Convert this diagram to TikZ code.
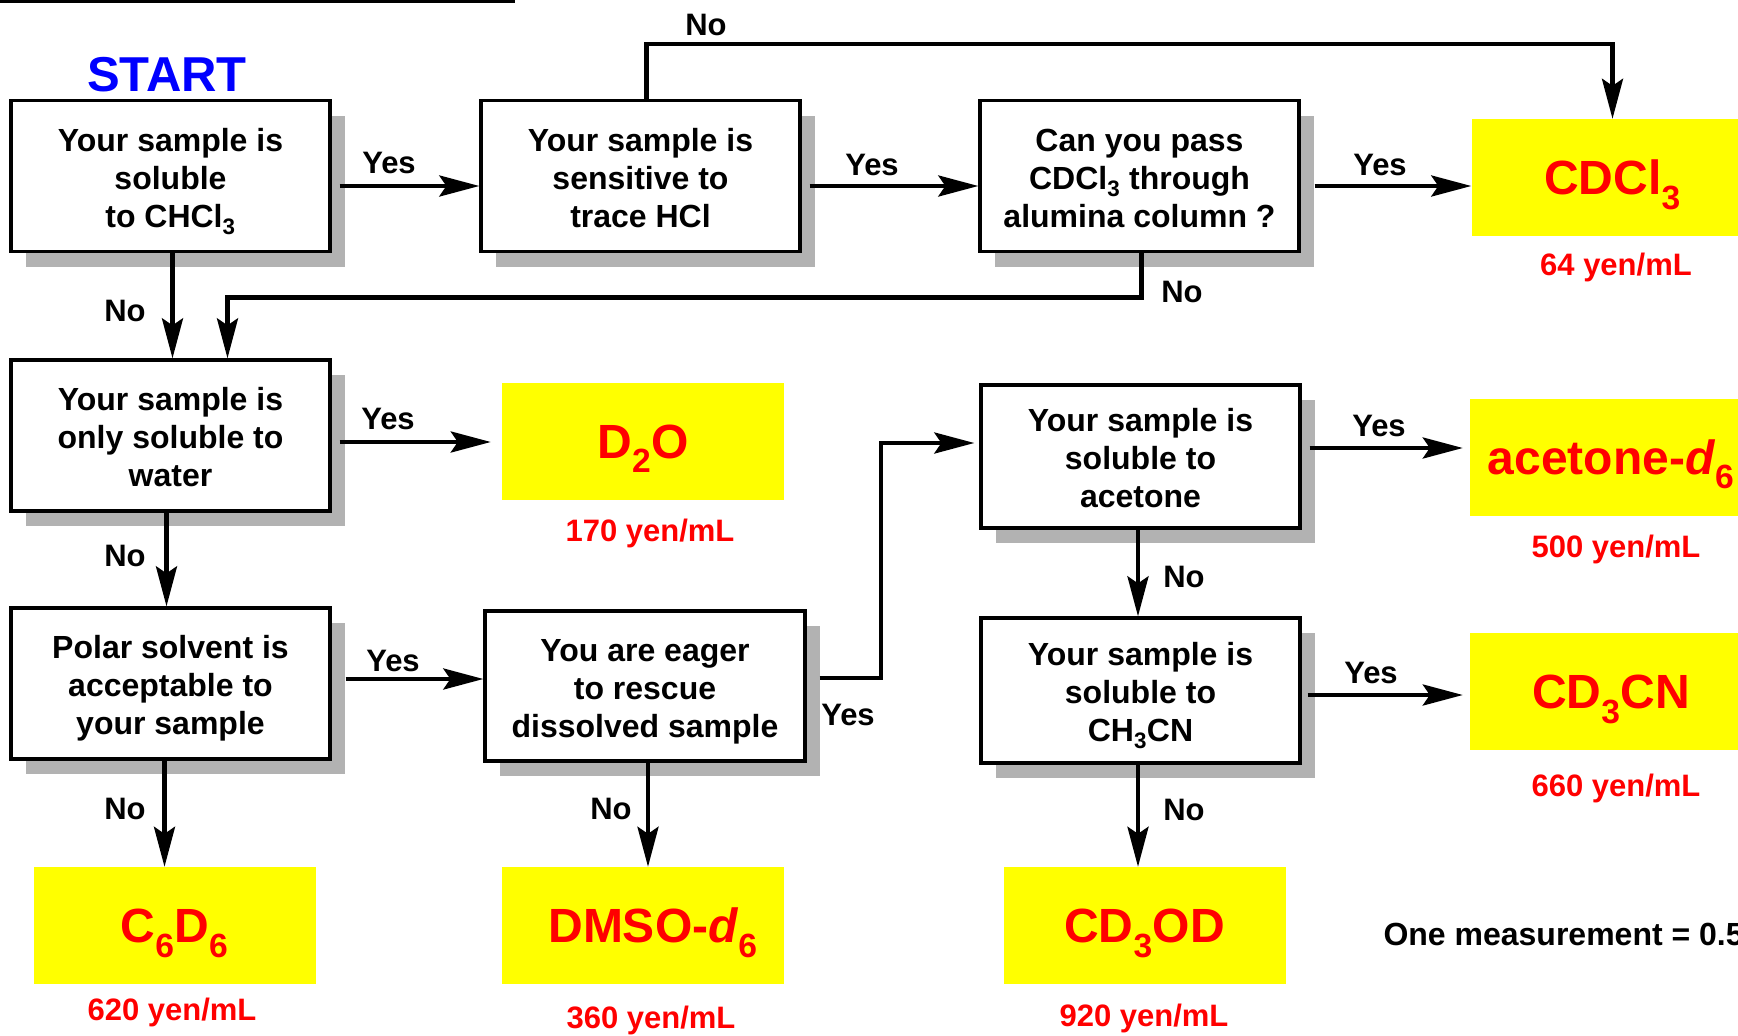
\documentclass[tikz,border=0pt]{standalone}
\usepackage{fontspec}
\setmainfont{Liberation Sans}
\usetikzlibrary{arrows.meta,shadows}
\definecolor{ylw}{RGB}{255,255,0}
\definecolor{rd}{RGB}{255,0,0}
\definecolor{bl}{RGB}{0,0,255}
\newcommand\boxfont{\fontsize{32}{38}\selectfont\bfseries}
\newcommand\solfont{\fontsize{48}{54}\selectfont\bfseries}
\newcommand\startfont{\fontsize{49}{54}\selectfont\bfseries}
\newcommand\labfont{\fontsize{31}{36}\selectfont\bfseries}
\newcommand\notefont{\fontsize{32}{36}\selectfont\bfseries}
\newcommand\sbs[1]{\textsubscript{#1}}
\newcommand\qtext[1]{\begin{tabular}{@{}c@{}}\rule{0pt}{38pt}#1\end{tabular}}
\begin{document}
\begin{tikzpicture}[x=1pt,y=-1pt,
  qbox/.style={draw, line width=3.3pt, fill=white, minimum width=319pt,
    minimum height=151pt, inner sep=0pt, font=\boxfont,
    drop shadow={shadow xshift=15pt, shadow yshift=-15pt, fill=black!30, opacity=1}},
  ybox/.style={fill=ylw, minimum width=282pt, minimum height=117pt,
    inner sep=0pt, text height=34pt, text depth=0pt, text=rd, font=\solfont},
  price/.style={text=rd, font=\labfont},
  lab/.style={font=\labfont},
  arr/.style={line width=4.3pt, -{Stealth[length=40pt,width=21pt,inset=7pt]}}]
\useasboundingbox (0,0) rectangle (1738,1036);
\fill (0,0) rectangle (515,3);

% decision boxes
\node[qbox] (A) at (170.5,176) {\qtext{Your sample is\\soluble\\to CHCl\sbs{3}}};
\node[qbox] (B) at (640.5,176) {\qtext{Your sample is\\sensitive to\\trace HCl}};
\node[qbox] (C) at (1139.5,176) {\qtext{Can you pass\\CDCl\sbs{3} through\\alumina column ?}};
\node[qbox] (D) at (170.5,435.5) {\qtext{Your sample is\\only soluble to\\water}};
\node[qbox] (E) at (170.5,683.5) {\qtext{Polar solvent is\\acceptable to\\your sample}};
\node[qbox, minimum width=320pt, minimum height=150pt] (F) at (645,686) {\qtext{You are eager\\to rescue\\dissolved sample}};
\node[qbox, minimum height=143pt] (G) at (1140.5,456.5) {\qtext{Your sample is\\soluble to\\acetone}};
\node[qbox, minimum height=145pt] (H) at (1140.5,690.5) {\qtext{Your sample is\\soluble to\\CH\sbs{3}CN}};

% solvents
\node[ybox] (Y1) at (1612.5,177.5) {CDCl\sbs{3}};
\node[ybox] (Y2) at (643,441) {D\sbs{2}O};
\node[ybox] (Y3) at (1611,457) {acetone-\textit{d}\sbs{6}};
\node[ybox] (Y4) at (1611,691.5) {CD\sbs{3}CN};
\node[ybox] (Y5) at (174.5,925.5) {C\sbs{6}D\sbs{6}};
\node[ybox] (Y6) at (643,925.5) {\hspace*{20pt}DMSO-\textit{d}\sbs{6}};
\node[ybox] (Y7) at (1144.5,925.5) {CD\sbs{3}OD};

% prices
\node[price] (P1) at (1616,267) {64 yen/mL};
\node[price] (P2) at (650,533) {170 yen/mL};
\node[price] (P3) at (1616,549) {500 yen/mL};
\node[price] (P4) at (1616,788) {660 yen/mL};
\node[price] (P5) at (172,1012) {620 yen/mL};
\node[price] (P6) at (651,1020) {360 yen/mL};
\node[price] (P7) at (1144,1018) {920 yen/mL};

\node[text=bl, font=\startfont] (start) at (167,75) {START};
\node[font=\notefont, anchor=west] (note) at (1380,934) {One measurement = 0.5};

% connectors
\draw[arr] ([xshift=8pt,yshift=-10pt]A.east) coordinate (a1) -- (a1 -| B.west);
\draw[arr] ([xshift=8pt,yshift=-10pt]B.east) coordinate (b1) -- (b1 -| C.west);
\draw[arr] ([xshift=14pt,yshift=-10pt]C.east) coordinate (c1) -- (c1 -| Y1.west);
\draw[arr] ([xshift=6pt]B.north) |- ([yshift=75pt]Y1.north) -- (Y1.north);
\draw[arr] ([xshift=2pt]C.south) |- ([xshift=57pt,yshift=61pt]D.north) -- ([xshift=57pt]D.north);
\draw[arr] ([xshift=2pt]A.south) coordinate (a2) -- (a2 |- D.north);
\draw[arr, shorten >=11pt] ([xshift=8pt,yshift=-6.5pt]D.east) coordinate (d1) -- (d1 -| Y2.west);
\draw[arr] ([xshift=-4pt]D.south) coordinate (d2) -- (d2 |- E.north);
\draw[arr] ([xshift=14pt,yshift=4.5pt]E.east) coordinate (e1) -- (e1 -| F.west);
\draw[arr] ([xshift=-6pt]E.south) coordinate (e2) -- (e2 |- Y5.north);
\draw[arr, shorten >=5pt] ([xshift=13pt,yshift=8pt]F.east) -- ++(61,0) |- ([yshift=13.5pt]G.west);
\draw[arr] ([xshift=3pt]F.south) coordinate (f2) -- (f2 |- Y6.north);
\draw[arr, shorten >=7pt] ([xshift=8pt,yshift=8.5pt]G.east) coordinate (g1) -- (g1 -| Y3.west);
\draw[arr] ([xshift=-2.5pt]G.south) coordinate (g2) -- (g2 |- H.north);
\draw[arr, shorten >=7pt] ([xshift=6pt,yshift=-4.5pt]H.east) coordinate (h1) -- (h1 -| Y4.west);
\draw[arr] ([xshift=-2.5pt]H.south) coordinate (h2) -- (h2 |- Y7.north);

% labels
\node[lab] (L1) at (389,163) {Yes};
\node[lab] (L2) at (872,165) {Yes};
\node[lab] (L3) at (1380,165) {Yes};
\node[lab] (L4) at (706,25) {No};
\node[lab] (L5) at (1182,292) {No};
\node[lab] (L6) at (125,311) {No};
\node[lab] (L7) at (388,419) {Yes};
\node[lab] (L8) at (125,556) {No};
\node[lab] (L9) at (393,661) {Yes};
\node[lab] (L10) at (125,809) {No};
\node[lab] (L11) at (848,715) {Yes};
\node[lab] (L12) at (611,809) {No};
\node[lab] (L13) at (1379,426) {Yes};
\node[lab] (L14) at (1184,577) {No};
\node[lab] (L15) at (1371,673) {Yes};
\node[lab] (L16) at (1184,810) {No};
\end{tikzpicture}
\end{document}
